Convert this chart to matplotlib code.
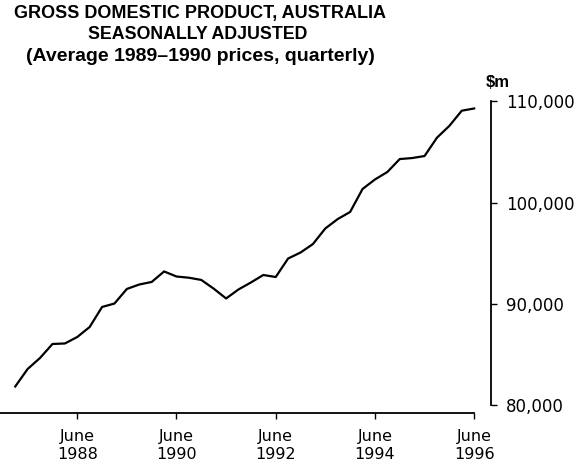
import matplotlib
matplotlib.use('Agg')
import matplotlib.pyplot as plt

# Quarterly GDP, seasonally adjusted, $m (Mar 1987 - Jun 1996)
gdp = [81830, 83560, 84650, 86030, 86080, 86720, 87710, 89690, 90030, 91470,
       91910, 92160, 93200, 92700, 92580, 92360, 91500, 90530, 91420, 92110,
       92850, 92650, 94480, 95070, 95910, 97450, 98380, 99080, 101350, 102290,
       103030, 104310, 104410, 104610, 106420, 107590, 109090, 109310]
quarters = list(range(len(gdp)))  # 0 = March 1987

tick_pos = [5, 13, 21, 29, 37]
tick_labels = ['June\n1988', 'June\n1990', 'June\n1992', 'June\n1994', 'June\n1996']
y_ticks = [80000, 90000, 100000, 110000]
y_labels = ['80,000', '90,000', '100,000', '110,000']

plt.rcParams['font.family'] = ['Liberation Sans', 'DejaVu Sans']

fig = plt.figure(figsize=(5.77, 4.66), dpi=100)
ax = fig.add_axes([0.0, 0.1127, 0.851, 0.6695])

ax.plot(quarters, gdp, color='black', linewidth=1.6)

ax.set_xlim(-1.23, 38.36)
ax.set_ylim(79160, 110000)

# spines
ax.spines['top'].set_visible(False)
ax.spines['left'].set_visible(False)
ax.spines['bottom'].set_bounds(-1.23, 37)
ax.spines['right'].set_bounds(80000, 110000)
ax.spines['bottom'].set_linewidth(1.3)
ax.spines['right'].set_linewidth(1.3)

ax.set_xticks(tick_pos)
ax.set_xticklabels(tick_labels, fontsize=11.5, linespacing=1.25, family='DejaVu Sans')
ax.tick_params(axis='x', direction='out', length=4.5, width=1.0, pad=7)

ax.yaxis.tick_right()
ax.set_yticks(y_ticks)
ax.set_yticklabels(y_labels, fontsize=12, family='DejaVu Sans')
ax.tick_params(axis='y', direction='out', length=4, width=1.0, pad=7)

# title block
fig.text(0.347, 0.9715, 'GROSS DOMESTIC PRODUCT, AUSTRALIA', ha='center', va='center',
         fontsize=13, fontweight='bold')
fig.text(0.342, 0.925, 'SEASONALLY ADJUSTED', ha='center', va='center',
         fontsize=12.8, fontweight='bold')
fig.text(0.347, 0.878, '(Average 1989\u20131990 prices, quarterly)', ha='center', va='center',
         fontsize=14, fontweight='bold')

fig.text(486 / 577, 0.824, '$m', ha='left', va='center', fontsize=12, fontweight='bold')

fig.savefig('out.png', dpi=100)
